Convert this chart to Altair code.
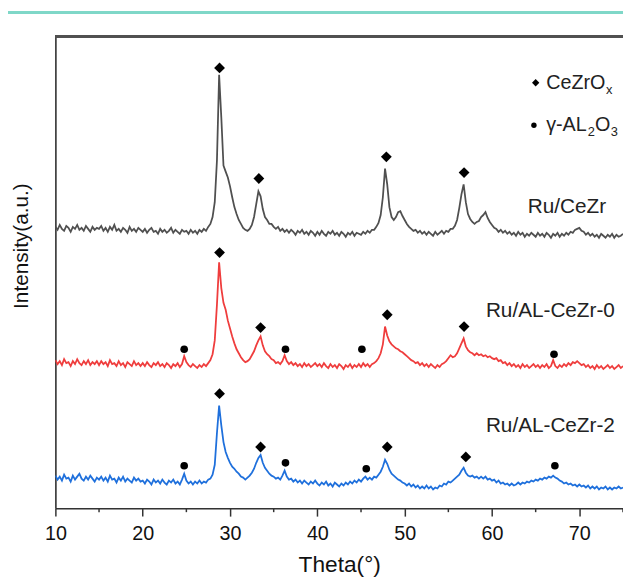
import altair as alt
import pandas as pd

# ---------------- data ----------------
SERIES = ["Ru/CeZr", "Ru/AL-CeZr-0", "Ru/AL-CeZr-2"]
COLORS = ["#505050", "#ef3d3d", "#1f70dc"]

# 2-theta sampling (10 .. 75 deg, 0.25 deg step)
THETA = [round(10 + 0.25 * i, 2) for i in range(261)]

# intensities (a.u., stacked offsets included)
CEZR = [
    281, 278, 283, 279, 277, 282, 280, 276, 281, 279, 283, 278, 280, 277, 282, 279, 276, 281, 278, 280,
    279, 282, 277, 280, 276, 281, 278, 283, 277, 279, 276, 280, 278, 275, 281, 277, 279, 276, 280, 278,
    276, 279, 275, 278, 280, 276, 277, 274, 279, 276, 278, 275, 277, 280, 275, 278, 276, 274, 278, 276,
    277, 274, 278, 275, 277, 274, 278, 276, 279, 277, 281, 284, 291, 306, 348, 435, 392, 343, 337, 331,
    322, 311, 301, 294, 288, 284, 280, 278, 277, 279, 283, 291, 304, 317, 312, 299, 291, 288, 284, 284,
    281, 279, 281, 277, 279, 276, 278, 275, 278, 276, 273, 277, 275, 278, 274, 276, 273, 277, 275, 272,
    276, 273, 277, 274, 272, 276, 274, 277, 273, 275, 272, 276, 274, 271, 275, 273, 276, 272, 275, 274,
    273, 276, 274, 277, 275, 278, 278, 281, 285, 293, 311, 340, 324, 301, 291, 288, 291, 296, 297, 292,
    288, 284, 281, 279, 277, 278, 275, 277, 274, 276, 273, 276, 274, 272, 276, 273, 275, 277, 274, 277,
    276, 279, 279, 282, 288, 300, 314, 324, 306, 294, 289, 286, 284, 286, 287, 291, 293, 296, 290, 286,
    283, 280, 279, 276, 278, 275, 277, 274, 276, 273, 275, 272, 276, 273, 275, 271, 274, 272, 275, 273,
    271, 275, 272, 274, 271, 275, 273, 270, 274, 272, 275, 271, 274, 272, 275, 273, 276, 275, 278, 279,
    280, 277, 276, 273, 275, 272, 274, 271, 273, 270, 274, 272, 270, 273, 271, 274, 270, 273, 271, 272,
    274,
]
AL_CEZR_0 = [
    146, 142, 145, 141, 147, 143, 144, 140, 145, 142, 147, 143, 141, 145, 142, 146, 141, 144, 142, 145,
    141, 145, 142, 144, 140, 146, 142, 143, 140, 145, 141, 143, 139, 144, 142, 140, 145, 141, 143, 140,
    143, 140, 144, 141, 139, 143, 141, 144, 140, 142, 139, 143, 141, 138, 142, 140, 143, 139, 142, 150,
    144, 141, 139, 142, 140, 138, 141, 139, 142, 140, 143, 146, 152, 166, 202, 245, 219, 204, 197, 186,
    178, 170, 163, 157, 153, 149, 146, 144, 145, 147, 151, 155, 161, 166, 170, 161, 155, 152, 150, 147,
    146, 143, 144, 142, 145, 151, 145, 142, 144, 141, 143, 140, 142, 139, 143, 140, 142, 139, 141, 143,
    140, 142, 139, 143, 140, 138, 142, 139, 141, 138, 142, 140, 137, 141, 139, 142, 138, 141, 139, 142,
    139, 143, 140, 142, 139, 142, 143, 145, 148, 153, 162, 180, 171, 165, 162, 160, 158, 157, 155, 154,
    152, 150, 148, 146, 145, 143, 144, 141, 143, 140, 142, 139, 142, 140, 138, 141, 139, 142, 143, 145,
    148, 151, 149, 150, 153, 158, 163, 168, 160, 156, 154, 153, 151, 153, 151, 152, 150, 151, 149, 150,
    148, 147, 148, 145, 146, 143, 144, 141, 143, 140, 142, 139, 141, 138, 142, 139, 141, 138, 140, 142,
    139, 141, 138, 141, 139, 142, 138, 140, 146, 140, 138, 141, 139, 142, 140, 143, 141, 144, 143, 145,
    143, 141, 142, 139, 141, 138, 140, 137, 141, 138, 140, 137, 139, 141, 138, 140, 137, 139, 141, 138,
    140,
]
AL_CEZR_2 = [
    29, 25, 28, 24, 30, 26, 27, 23, 29, 25, 28, 31, 26, 24, 28, 25, 29, 26, 23, 27,
    25, 28, 24, 27, 23, 29, 25, 26, 22, 27, 24, 28, 23, 26, 24, 22, 27, 24, 26, 23,
    24, 21, 25, 23, 20, 25, 22, 24, 21, 25, 22, 20, 24, 22, 25, 21, 23, 20, 25, 31,
    24, 21, 23, 20, 23, 21, 24, 21, 23, 22, 25, 26, 30, 40, 72, 100, 80, 63, 53, 47,
    42, 38, 36, 33, 31, 28, 27, 25, 27, 29, 32, 36, 42, 47, 50, 42, 37, 34, 31, 29,
    28, 26, 27, 25, 29, 34, 28, 25, 26, 23, 25, 22, 24, 21, 24, 22, 20, 23, 21, 24,
    21, 19, 22, 20, 23, 19, 21, 18, 22, 20, 18, 21, 19, 22, 20, 23, 21, 24, 22, 25,
    23, 26, 28, 25, 27, 25, 28, 27, 30, 33, 38, 45, 41, 35, 31, 29, 27, 25, 24, 22,
    21, 19, 21, 18, 20, 17, 19, 16, 18, 16, 19, 16, 18, 15, 17, 16, 19, 18, 21, 20,
    23, 22, 24, 26, 28, 30, 34, 37, 32, 29, 28, 29, 27, 28, 26, 28, 26, 28, 25, 26,
    24, 25, 22, 24, 21, 22, 20, 21, 19, 21, 19, 20, 22, 20, 22, 21, 23, 22, 24, 23,
    25, 24, 26, 25, 27, 26, 28, 27, 29, 27, 26, 24, 23, 21, 22, 20, 21, 19, 20, 18,
    20, 18, 19, 17, 19, 16, 18, 16, 18, 15, 17, 16, 18, 15, 17, 15, 17, 16, 18, 16,
    17,
]
INTENSITIES = [CEZR, AL_CEZR_0, AL_CEZR_2]

# phase markers: CeZrOx (diamond) and gamma-Al2O3 (circle)
DIAMOND_THETA = [28.8, 33.3, 47.9, 56.8, 28.8, 33.5, 48.0, 56.8, 28.8, 33.5, 48.0, 57.0]
DIAMOND_V = [442, 330, 352, 336, 255, 179, 192, 180, 112, 58, 58, 48]
CIRCLE_THETA = [24.75, 36.35, 45.1, 67.1, 24.75, 36.35, 45.6, 67.2]
CIRCLE_V = [157, 157, 157, 152, 39, 42, 36, 39]

# sample labels
LABEL_THETA = [64.1, 59.3, 59.3]
LABEL_V = [301, 196, 79]

# legend
LEGEND_ITEMS = ["CeZrO", "γ-AL", "O"]
LEGEND_SUBS = ["x", "2", "3"]

X_TICKS = [10, 20, 30, 40, 50, 60, 70]
X_MINOR = [15, 25, 35, 45, 55, 65, 75]

# ---------------- build tables ----------------
rows = []
for name, vals in zip(SERIES, INTENSITIES):
    assert len(vals) == len(THETA), (name, len(vals))
    for t, v in zip(THETA, vals):
        rows.append({"series": name, "theta": t, "v": v})
df = pd.DataFrame(rows)

dia = pd.DataFrame({"theta": DIAMOND_THETA, "v": DIAMOND_V})
cir = pd.DataFrame({"theta": CIRCLE_THETA, "v": CIRCLE_V})
lab = pd.DataFrame({"series": SERIES, "theta": LABEL_THETA, "v": LABEL_V})

leg_text = pd.DataFrame({"t": LEGEND_ITEMS, "theta": [66.2, 66.2, 71.8], "v": [427, 384, 384]})
leg_sub = pd.DataFrame({"t": LEGEND_SUBS, "theta": [73.05, 70.95, 73.6], "v": [420, 377, 377]})
leg_dia = pd.DataFrame({"theta": [65.0], "v": [427]})
leg_cir = pd.DataFrame({"theta": [64.8], "v": [384]})
minor = pd.DataFrame({"theta": X_MINOR})

W, H = 575, 478
FONT = "Liberation Sans"

xs = alt.Scale(domain=[10, 75], nice=False, zero=False)
ys = alt.Scale(domain=[-4, 474], nice=False, zero=False)

x_axis = alt.Axis(
    values=X_TICKS, title="Theta(°)", grid=False, labelFlush=False,
    labelFont=FONT, labelFontSize=20, labelColor="#111111", labelPadding=8,
    titleFont=FONT, titleFontSize=23, titleFontWeight="normal", titleColor="#111111",
    titleY=57, titleBaseline="middle",
    tickSize=8, tickWidth=1.5, tickColor="#333333",
    domainColor="#333333", domainWidth=1.6,
)
y_axis = alt.Axis(
    title="Intensity(a.u.)", grid=False, labels=False, ticks=False,
    titleFont=FONT, titleFontSize=21, titleFontWeight="normal", titleColor="#111111",
    titleX=-34, titleY=212, titleBaseline="middle", titleAlign="center",
    domainColor="#333333", domainWidth=1.6,
)

lines = alt.Chart(df).mark_line(strokeWidth=1.8, clip=True).encode(
    x=alt.X("theta:Q", scale=xs, axis=x_axis),
    y=alt.Y("v:Q", scale=ys, axis=y_axis),
    color=alt.Color("series:N", scale=alt.Scale(domain=SERIES, range=COLORS), legend=None),
    detail="series:N",
)

diamonds = alt.Chart(dia).mark_point(shape="diamond", filled=True, color="#000000", opacity=1, size=120).encode(
    x=alt.X("theta:Q", scale=xs), y=alt.Y("v:Q", scale=ys)
)
circles = alt.Chart(cir).mark_point(shape="circle", filled=True, color="#000000", opacity=1, size=60).encode(
    x=alt.X("theta:Q", scale=xs), y=alt.Y("v:Q", scale=ys)
)

labels = alt.Chart(lab).mark_text(align="left", baseline="middle", font=FONT, fontSize=21, color="#222222").encode(
    x=alt.X("theta:Q", scale=xs), y=alt.Y("v:Q", scale=ys), text="series:N"
)

l_text = alt.Chart(leg_text).mark_text(align="left", baseline="middle", font=FONT, fontSize=20, color="#222222").encode(
    x=alt.X("theta:Q", scale=xs), y=alt.Y("v:Q", scale=ys), text="t:N"
)
l_sub = alt.Chart(leg_sub).mark_text(align="left", baseline="middle", font=FONT, fontSize=13, color="#222222").encode(
    x=alt.X("theta:Q", scale=xs), y=alt.Y("v:Q", scale=ys), text="t:N"
)
l_dia = alt.Chart(leg_dia).mark_point(shape="diamond", filled=True, color="#000000", opacity=1, size=55).encode(
    x=alt.X("theta:Q", scale=xs), y=alt.Y("v:Q", scale=ys)
)
l_cir = alt.Chart(leg_cir).mark_point(shape="circle", filled=True, color="#000000", opacity=1, size=30).encode(
    x=alt.X("theta:Q", scale=xs), y=alt.Y("v:Q", scale=ys)
)

minor_ticks = alt.Chart(minor).mark_rule(color="#333333", strokeWidth=1.5).encode(
    x=alt.X("theta:Q", scale=xs), y=alt.value(H), y2=alt.value(H + 4)
)

top_frame = alt.Chart(minor).mark_rule(color="#505050", strokeWidth=2.5).encode(
    x=alt.value(0), x2=alt.value(W), y=alt.value(0)
)
teal = alt.Chart(minor).mark_rule(color="#7fd7c8", strokeWidth=2.5).encode(
    x=alt.value(-48), x2=alt.value(W), y=alt.value(-24)
)

chart = alt.layer(
    teal, top_frame, minor_ticks, lines, diamonds, circles, labels, l_dia, l_cir, l_text, l_sub
).properties(
    width=W, height=H,
    autosize=alt.AutoSizeParams(type="none"),
    padding={"left": 48, "top": 25, "right": 0, "bottom": 70},
).configure_view(stroke=None).configure(background="white")

chart.save("out.html", embed_options={"renderer": "svg", "actions": False})
